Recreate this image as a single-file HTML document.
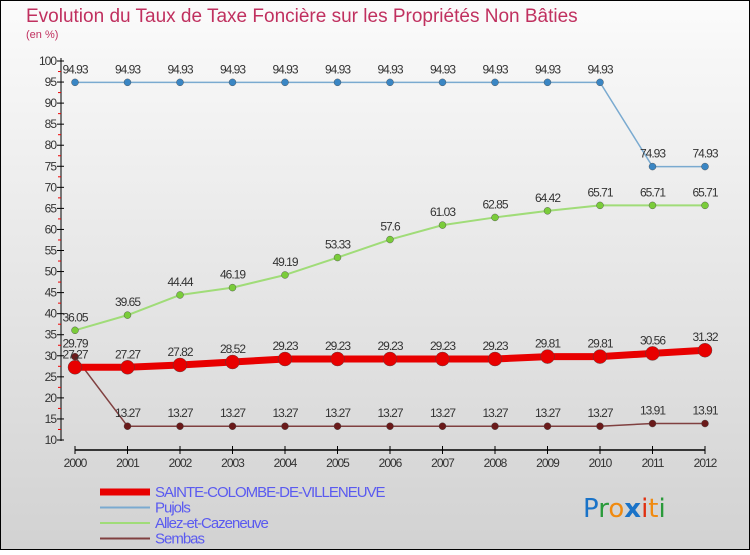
<!DOCTYPE html>
<html><head><meta charset="utf-8"><style>
body{margin:0;width:750px;height:550px;overflow:hidden;font-family:"Liberation Sans",sans-serif}
</style></head><body>
<svg width="750" height="550" xmlns="http://www.w3.org/2000/svg">
<defs><linearGradient id="bg" x1="0" y1="0" x2="0" y2="1"><stop offset="0" stop-color="#fbfbfb"/><stop offset="1" stop-color="#d2d2d2"/></linearGradient></defs>
<rect x="0.5" y="0.5" width="749" height="549" fill="url(#bg)" stroke="#000"/>
<text x="26" y="22" font-size="19" fill="#c0305f">Evolution du Taux de Taxe Foncière sur les Propriétés Non Bâties</text>
<text x="26" y="38" font-size="11" fill="#c0305f">(en %)</text>
<g id="axes"></g><g id="series"></g><g id="legend"></g>
<text x="583" y="517" font-size="26" font-family="'DejaVu Sans',sans-serif"><tspan fill="#1a73c8">P</tspan><tspan fill="#2a9a3a">r</tspan><tspan fill="#f08a10">o</tspan><tspan fill="#1a73c8" font-weight="bold">x</tspan><tspan fill="#e03010">i</tspan><tspan fill="#f08a10">t</tspan><tspan fill="#2a9a3a">i</tspan></text>
</svg>
<script>
const years=[2000,2001,2002,2003,2004,2005,2006,2007,2008,2009,2010,2011,2012];
const sainte=[27.27,27.27,27.82,28.52,29.23,29.23,29.23,29.23,29.23,29.81,29.81,30.56,31.32];
const pujols=[94.93,94.93,94.93,94.93,94.93,94.93,94.93,94.93,94.93,94.93,94.93,74.93,74.93];
const allez=[36.05,39.65,44.44,46.19,49.19,53.33,57.6,61.03,62.85,64.42,65.71,65.71,65.71];
const sembas=[29.79,13.27,13.27,13.27,13.27,13.27,13.27,13.27,13.27,13.27,13.27,13.91,13.91];
const yTicks=[10,15,20,25,30,35,40,45,50,55,60,65,70,75,80,85,90,95,100];
const NS="http://www.w3.org/2000/svg";
const xs=i=>75+i*52.5;
const ys=v=>440-(v-10)*(379/90);
function mk(t,a,p){const e=document.createElementNS(NS,t);for(const k in a)e.setAttribute(k,a[k]);p.appendChild(e);return e;}
const ax=document.getElementById('axes');
let l=mk('line',{x1:61,y1:58,x2:61,y2:441,stroke:'#000'},ax);


l=mk('line',{x1:75,y1:450,x2:705,y2:450,stroke:'#000','stroke-width':1.5},ax);


yTicks.forEach(v=>{const y=ys(v);mk('line',{x1:57,x2:64,y1:y,y2:y,stroke:'#000'},ax);
if(v<100)mk('line',{x1:58,x2:61,y1:ys(v+2.5),y2:ys(v+2.5),stroke:'#e00'},ax);
const t=mk('text',{x:56,y:y+4,'text-anchor':'end','font-size':12,fill:'#333','letter-spacing':'-1'},ax);t.textContent=v;

});
years.forEach((yr,i)=>{mk('line',{x1:xs(i),x2:xs(i),y1:446,y2:454,stroke:'#000'},ax);
const t=mk('text',{x:xs(i),y:467,'text-anchor':'middle','font-size':12,fill:'#333','letter-spacing':'-1'},ax);t.textContent=yr;

});
const sg=document.getElementById('series');
function draw(name,data,color,lw,r,dot){const g=mk('g',{},sg);


mk('polyline',{points:data.map((v,i)=>xs(i)+','+ys(v)).join(' '),fill:'none',stroke:color,'stroke-width':lw,'stroke-linejoin':'round'},g);
data.forEach((v,i)=>{const c=mk('circle',{cx:xs(i),cy:ys(v),r:r,fill:dot,stroke:'#444','stroke-width':0.4},g);


const t=mk('text',{x:xs(i),y:ys(v)-9,'text-anchor':'middle','font-size':12,fill:'#333','letter-spacing':'-1'},g);t.textContent=v;

});}
draw('pujols',pujols,'#7aaad0',1.5,3.5,'#3a86c4');
draw('allez',allez,'#a0dc78',2,3.5,'#7acc3a');
draw('sembas',sembas,'#804040',1.5,3.5,'#6a1a1a');
draw('sainte',sainte,'#e80000',7,7,'#e80000');
const lg=document.getElementById('legend');
[['SAINTE-COLOMBE-DE-VILLENEUVE','#e80000',7],['Pujols','#7aaad0',2],['Allez-et-Cazeneuve','#a0dc78',2],['Sembas','#804040',2]].forEach((d,i)=>{const y=492+i*15.5;
const g=mk('g',{},lg);


mk('line',{x1:100,x2:150,y1:y,y2:y,stroke:d[1],'stroke-width':d[2]},g);
const t=mk('text',{x:155,y:y+5,'font-size':15,fill:'#5a5af0','letter-spacing':'-1'},g);t.textContent=d[0];});
</script>
</body></html>
